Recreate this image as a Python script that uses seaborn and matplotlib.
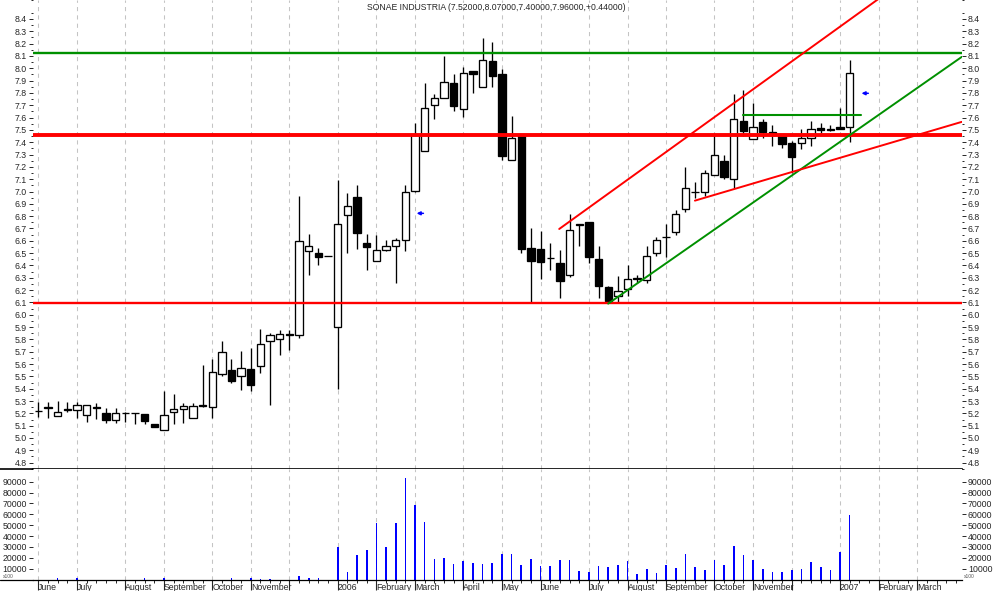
import numpy as np
import pandas as pd
import seaborn as sns
import matplotlib.pyplot as plt
from matplotlib.lines import Line2D
from matplotlib.ticker import FixedLocator, FormatStrFormatter

# weekly candles (Fridays), first one 2005-06-03
opens = [5.22, 5.25, 5.18, 5.235, 5.225, 5.185, 5.255, 5.20, 5.15, 5.205,
         5.20, 5.195, 5.115, 5.065, 5.21, 5.235, 5.16, 5.265, 5.255, 5.52,
         5.55, 5.50, 5.56, 5.585, 5.79, 5.805, 5.845, 5.835, 6.515, 6.50,
         6.475, 5.90, 6.81, 6.955, 6.58, 6.435, 6.525, 6.555, 6.605, 7.005,
         7.33, 7.70, 7.757, 7.878, 7.667, 7.978, 7.846, 8.057, 7.951, 7.254,
         7.46, 6.54, 6.53, 6.458, 6.42, 6.32, 6.74, 6.75, 6.45, 6.225,
         6.15, 6.207, 6.30, 6.28, 6.50, 6.63, 6.67, 6.856, 7.00, 7.00,
         7.132, 7.248, 7.10, 7.572, 7.424, 7.564, 7.483, 7.448, 7.39, 7.39,
         7.432, 7.513, 7.50, 7.52, 7.52]
highs = [5.29, 5.29, 5.30, 5.295, 5.29, 5.27, 5.28, 5.24, 5.24, 5.21,
         5.20, 5.195, 5.115, 5.385, 5.355, 5.28, 5.28, 5.59, 5.645, 5.79,
         5.645, 5.705, 5.73, 5.885, 5.855, 5.875, 5.88, 6.965, 6.655, 6.54,
         6.475, 7.095, 6.99, 7.05, 6.655, 6.65, 6.605, 6.625, 7.055, 7.555,
         7.88, 7.79, 8.10, 7.955, 8.013, 7.978, 8.243, 8.21, 7.994, 7.61,
         7.46, 6.70, 6.68, 6.58, 6.525, 6.82, 6.74, 6.75, 6.555, 6.235,
         6.315, 6.405, 6.32, 6.56, 6.63, 6.74, 6.85, 7.20, 7.08, 7.175,
         7.478, 7.30, 7.79, 7.824, 7.72, 7.586, 7.537, 7.45, 7.41, 7.505,
         7.572, 7.56, 7.54, 7.68, 8.07]
lows = [5.17, 5.16, 5.18, 5.21, 5.16, 5.13, 5.155, 5.125, 5.12, 5.13,
        5.115, 5.115, 5.09, 5.065, 5.11, 5.125, 5.16, 5.255, 5.165, 5.50,
        5.45, 5.39, 5.38, 5.53, 5.27, 5.675, 5.715, 5.81, 6.325, 6.40,
        6.475, 5.40, 6.505, 6.535, 6.36, 6.435, 6.52, 6.255, 6.52, 6.995,
        7.33, 7.59, 7.757, 7.655, 7.607, 7.80, 7.846, 7.85, 7.254, 7.254,
        6.50, 6.107, 6.29, 6.365, 6.135, 6.31, 6.555, 6.42, 6.14, 6.10,
        6.105, 6.155, 6.255, 6.255, 6.48, 6.465, 6.65, 6.837, 6.945, 6.96,
        7.13, 7.10, 7.026, 7.45, 7.424, 7.437, 7.372, 7.355, 7.153, 7.343,
        7.37, 7.473, 7.49, 7.51, 7.40]
closes = [5.22, 5.24, 5.21, 5.225, 5.265, 5.265, 5.24, 5.15, 5.205, 5.205,
          5.20, 5.135, 5.09, 5.185, 5.235, 5.262, 5.258, 5.257, 5.535, 5.695,
          5.46, 5.57, 5.43, 5.76, 5.835, 5.845, 5.835, 6.595, 6.555, 6.47,
          6.475, 6.74, 6.885, 6.66, 6.55, 6.525, 6.555, 6.605, 7.00, 7.455,
          7.68, 7.755, 7.886, 7.694, 7.96, 7.952, 8.065, 7.94, 7.286, 7.432,
          6.53, 6.44, 6.43, 6.458, 6.27, 6.685, 6.73, 6.47, 6.23, 6.11,
          6.195, 6.293, 6.29, 6.48, 6.605, 6.63, 6.815, 7.026, 7.00, 7.148,
          7.294, 7.12, 7.586, 7.49, 7.521, 7.486, 7.461, 7.388, 7.283, 7.432,
          7.505, 7.503, 7.505, 7.51, 7.96]
volumes = [0, 0, 1500, 0, 1500, 0, 0, 0, 0, 0,
           0, 1200, 0, 1500, 0, 0, 0, 0, 0, 0,
           1200, 0, 1200, 1000, 1000, 0, 0, 3300, 1500, 1500,
           0, 30250, 7000, 22900, 27200, 52000, 30250, 52000, 93700, 68600,
           53000, 18900, 19900, 14300, 17100, 15500, 14300, 15200, 23800, 23800,
           13400, 18900, 12800, 12500, 18000, 18000, 7900, 7000, 12500, 11600,
           13400, 17100, 5150, 9750, 6400, 13400, 10700, 23500, 11600, 8800,
           18000, 13400, 30900, 22600, 18000, 9750, 7000, 7000, 8800, 9750,
           16200, 11600, 8800, 25400, 59400]

first_week = '2005-06-03'
n_axis_weeks = 96
month_labels = ['June', 'July', 'August', 'September', 'October', 'November', '',
                '2006', 'February', 'March', 'April', 'May', 'June', 'July',
                'August', 'September', 'October', 'November', '', '2007',
                'February', 'March']
title = 'SONAE INDUSTRIA (7.52000,8.07000,7.40000,7.96000,+0.44000)'

sns.set_style('white')
plt.rcParams['font.family'] = ['Liberation Sans', 'DejaVu Sans']

weeks = pd.date_range(first_week, periods=n_axis_weeks, freq='W-FRI')
month_pos = [0] + [i for i in range(1, n_axis_weeks) if weeks[i].month != weeks[i - 1].month]
idx = np.arange(len(closes))
o = np.array(opens); c = np.array(closes)

W, H = 994, 591
L = 33 / W
R = 961.7 / W
y_sep = (H - 469.3) / H
y_bot = (H - 579.6) / H

fig = plt.figure(figsize=(W / 100, H / 100), dpi=100)
ax = fig.add_axes([L, y_sep, R - L, 1 - y_sep])
axv = fig.add_axes([L, y_bot, R - L, y_sep - y_bot])

grid_kw = dict(color='#c4c4c4', lw=0.75, ls=(0, (4, 4)), zorder=0)
for p in month_pos:
    ax.axvline(p, **grid_kw)
    axv.axvline(p, **grid_kw)

# candles
ax.vlines(idx, lows, highs, color='black', lw=0.95, zorder=2)
body_col = ['white' if cc >= oo else 'black' for oo, cc in zip(o, c)]
ax.bar(idx, np.abs(c - o), bottom=np.minimum(o, c), width=0.76, color=body_col,
       edgecolor='black', linewidth=0.95, zorder=3)

green = '#009000'
red = '#ff0000'
ax.axhline(8.127, color=green, lw=1.7, zorder=4)
ax.axhline(7.456, color=red, lw=2.8, zorder=4)
ax.axhline(6.098, color=red, lw=1.7, zorder=4)
ax.plot([53.93, 90], [6.696, 8.733], color=red, lw=1.4, zorder=4)
ax.plot([59.0, 95.6], [6.09, 8.092], color=green, lw=1.4, zorder=4)
ax.plot([67.98, 95.6], [6.926, 7.565], color=red, lw=1.4, zorder=4)
ax.plot([72.98, 85.13], [7.624, 7.624], color=green, lw=1.5, zorder=4)

for xa, ya in [(39.17, 6.823), (85.23, 7.797)]:
    ax.annotate('', xy=(xa, ya), xytext=(xa + 0.7, ya),
                arrowprops=dict(arrowstyle='-|>', color='blue', lw=1.1,
                                mutation_scale=5, shrinkA=0, shrinkB=0))

ax.set_xlim(-0.55, 95.6)
ax.set_ylim(4.746, 8.554)
ax.yaxis.set_major_locator(FixedLocator(np.round(np.arange(4.8, 8.41, 0.1), 2)))
ax.yaxis.set_minor_locator(FixedLocator(np.round(np.arange(4.75, 8.56, 0.1), 2)))
ax.yaxis.set_major_formatter(FormatStrFormatter('%.1f'))
ax.tick_params(axis='y', which='both', left=True, right=True, labelleft=True,
               labelright=True, direction='out', width=0.7, labelsize=6.3, pad=1.5)
ax.tick_params(axis='y', which='major', length=3)
ax.tick_params(axis='y', which='minor', length=1.5)
ax.tick_params(axis='x', which='both', bottom=False, labelbottom=False)
for s in ['left', 'right', 'top']:
    ax.spines[s].set_visible(False)
ax.spines['bottom'].set_linewidth(1.2)
ax.spines['bottom'].set_color('black')

# volume
sns.barplot(x=idx, y=volumes, ax=axv, native_scale=True, orient='x', width=0.17,
            color='blue', saturation=1, errorbar=None, linewidth=0)
axv.set_xlim(-0.55, 95.6)
axv.set_ylim(0, 101400)
axv.set_xlabel('')
axv.set_ylabel('')
axv.yaxis.set_major_locator(FixedLocator(range(10000, 100000, 10000)))
axv.yaxis.set_major_formatter(FormatStrFormatter('%d'))
axv.tick_params(axis='y', left=True, right=True, labelleft=True, labelright=True,
                direction='out', length=3, width=0.7, labelsize=6.3, pad=1.5)
axv.xaxis.set_major_locator(FixedLocator(month_pos))
axv.xaxis.set_minor_locator(FixedLocator(range(n_axis_weeks)))
axv.set_xticklabels(month_labels, ha='left')
axv.tick_params(axis='x', which='major', bottom=True, direction='out', length=7,
                width=0.8, labelsize=6.3, pad=-4.8)
axv.tick_params(axis='x', which='minor', bottom=True, direction='out', length=2,
                width=0.7)
for s in ['left', 'right', 'top']:
    axv.spines[s].set_visible(False)
axv.spines['bottom'].set_linewidth(0.9)
axv.spines['bottom'].set_color('black')

fig.add_artist(Line2D([0, L], [y_sep, y_sep], color='black', lw=1.2))
fig.add_artist(Line2D([0, L], [y_bot, y_bot], color='black', lw=0.9))
fig.text(3 / W, (H - 577) / H, 'x100', fontsize=3.5, color='#555555', va='center')
fig.text(964 / W, (H - 577) / H, 'x100', fontsize=3.5, color='#555555', va='center')
fig.text(496 / W, 1 - 7.5 / H, title, ha='center', va='center', fontsize=6.2)

fig.savefig('out.png', dpi=100)
